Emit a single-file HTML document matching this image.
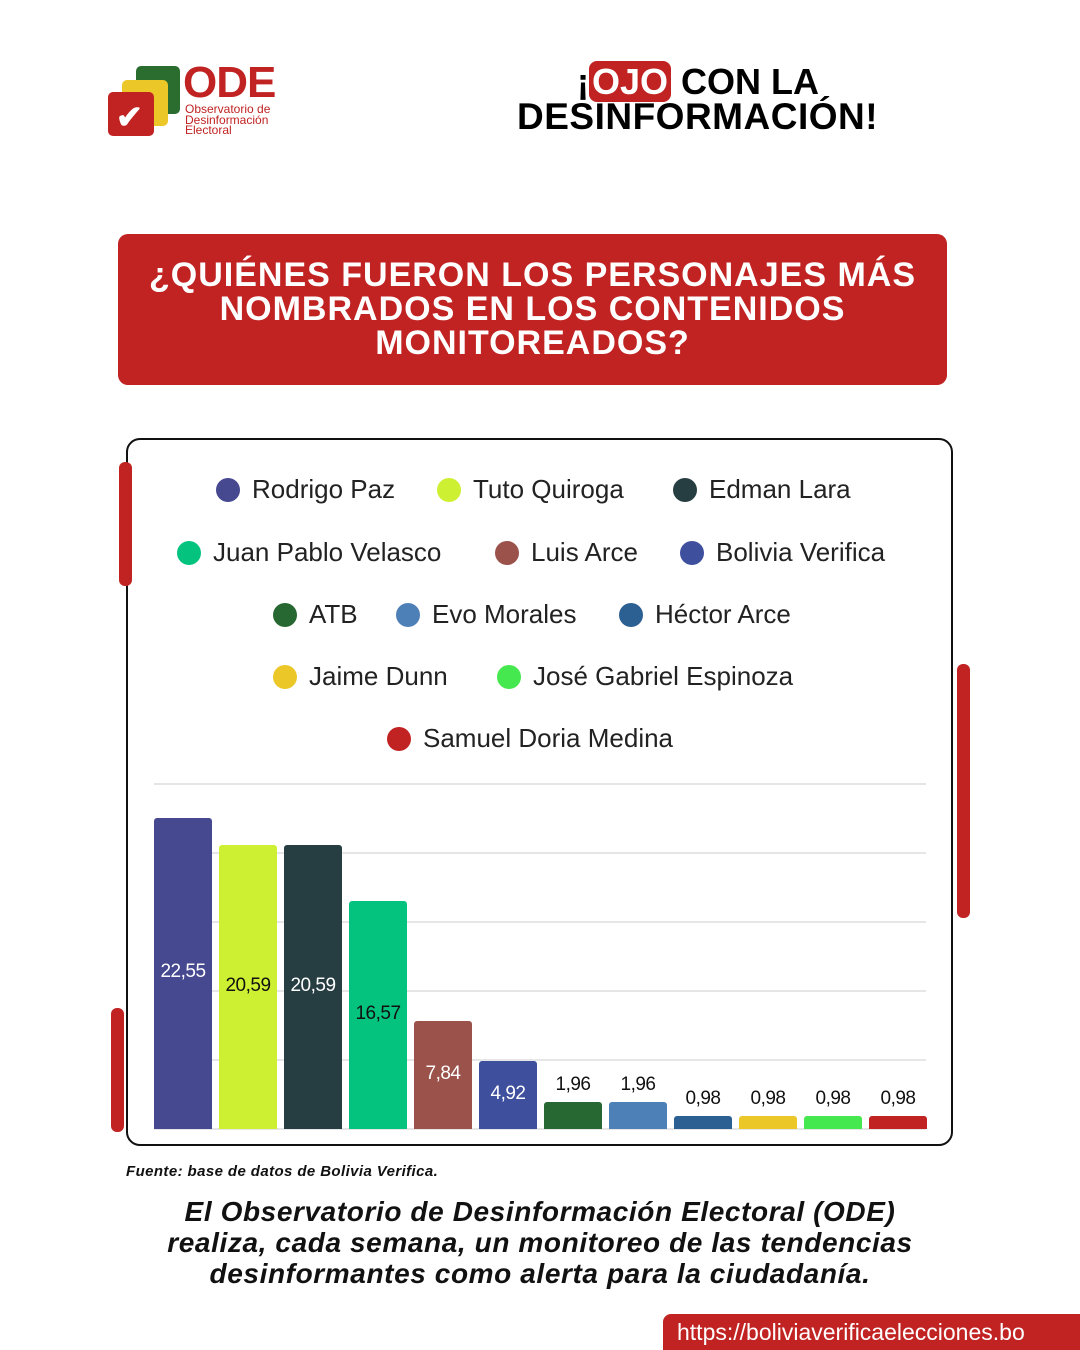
<!DOCTYPE html>
<html><head><meta charset="utf-8"><style>
body{margin:0;width:1080px;height:1350px;background:#fff;position:relative;overflow:hidden;font-family:"Liberation Sans",sans-serif}
.a{position:absolute}
.bar{position:absolute;width:58px;border-radius:3px 3px 0 0}
.lbl{position:absolute;width:58px;text-align:center;font-size:19px;letter-spacing:-0.5px}
.gl{position:absolute;left:154px;width:772px;height:2px;background:#e6e6e6}
.leg{position:absolute;font-size:26px;color:#222;white-space:nowrap}
.dot{display:inline-block;width:24px;height:24px;border-radius:50%;vertical-align:-4px;margin-right:12px}
</style></head><body>
<!-- logo -->
<div class="a" style="left:136px;top:66px;width:44px;height:48px;background:#2a6d2f;border-radius:5px"></div>
<div class="a" style="left:122px;top:80px;width:46px;height:46px;background:#ecc728;border-radius:5px"></div>
<div class="a" style="left:108px;top:92px;width:46px;height:44px;background:#c12222;border-radius:5px"></div>
<div class="a" style="left:116px;top:98px;font-size:32px;color:#fff;font-weight:bold">✔</div>
<div class="a" style="left:183px;top:58px;font-size:44px;font-weight:900;color:#c12222;letter-spacing:-1px">ODE</div>
<div class="a" style="left:185px;top:104px;font-size:12px;line-height:10.5px;color:#c12222">Observatorio de<br>Desinformación<br>Electoral</div>
<!-- header -->
<div class="a" style="left:577px;top:64px;font-size:36px;font-weight:900;line-height:36px;color:#000">¡<span style="background:#c12222;color:#fff;border-radius:8px;padding:0 3px">OJO</span> CON LA</div>
<div class="a" style="left:517px;top:98px;font-size:37px;font-weight:900;line-height:38px;color:#000;letter-spacing:0.5px">DESINFORMACIÓN!</div>
<!-- title box -->
<div class="a" style="left:118px;top:234px;width:829px;height:151px;background:#c12222;border-radius:10px;color:#fff;font-weight:900;font-size:34px;line-height:34px;text-align:center;box-sizing:border-box;padding-top:24px;letter-spacing:1px">¿QUIÉNES FUERON LOS PERSONAJES MÁS<br>NOMBRADOS EN LOS CONTENIDOS<br>MONITOREADOS?</div>
<!-- chart card -->
<div class="a" style="left:126px;top:438px;width:823px;height:704px;border:2px solid #111;border-radius:14px"></div>
<div class="a" style="left:119px;top:462px;width:13px;height:124px;background:#c12222;border-radius:6px"></div>
<div class="a" style="left:957px;top:664px;width:13px;height:254px;background:#c12222;border-radius:6px"></div>
<div class="a" style="left:111px;top:1008px;width:13px;height:124px;background:#c12222;border-radius:6px"></div>
<!-- legend -->
<div class="leg" style="left:216px;top:474px"><span class="dot" style="background:#464890"></span>Rodrigo Paz</div>
<div class="leg" style="left:437px;top:474px"><span class="dot" style="background:#cdf032"></span>Tuto Quiroga</div>
<div class="leg" style="left:673px;top:474px"><span class="dot" style="background:#263d42"></span>Edman Lara</div>
<div class="leg" style="left:177px;top:537px"><span class="dot" style="background:#04c37f"></span>Juan Pablo Velasco</div>
<div class="leg" style="left:495px;top:537px"><span class="dot" style="background:#9b524b"></span>Luis Arce</div>
<div class="leg" style="left:680px;top:537px"><span class="dot" style="background:#3e4f9e"></span>Bolivia Verifica</div>
<div class="leg" style="left:273px;top:599px"><span class="dot" style="background:#276731"></span>ATB</div>
<div class="leg" style="left:396px;top:599px"><span class="dot" style="background:#4e80b8"></span>Evo Morales</div>
<div class="leg" style="left:619px;top:599px"><span class="dot" style="background:#2c5f92"></span>Héctor Arce</div>
<div class="leg" style="left:273px;top:661px"><span class="dot" style="background:#ecc728"></span>Jaime Dunn</div>
<div class="leg" style="left:497px;top:661px"><span class="dot" style="background:#45e84f"></span>José Gabriel Espinoza</div>
<div class="leg" style="left:387px;top:723px"><span class="dot" style="background:#c12222"></span>Samuel Doria Medina</div>
<!-- grid -->
<div class="gl" style="top:783px"></div><div class="gl" style="top:852px"></div><div class="gl" style="top:921px"></div><div class="gl" style="top:990px"></div><div class="gl" style="top:1059px"></div><div class="gl" style="top:1128px"></div>
<!-- bars -->
<div class="bar" style="left:154px;top:818px;height:311px;background:#464890"></div>
<div class="bar" style="left:219px;top:845px;height:284px;background:#cdf032"></div>
<div class="bar" style="left:284px;top:845px;height:284px;background:#263d42"></div>
<div class="bar" style="left:349px;top:901px;height:228px;background:#04c37f"></div>
<div class="bar" style="left:414px;top:1021px;height:108px;background:#9b524b"></div>
<div class="bar" style="left:479px;top:1061px;height:68px;background:#3e4f9e"></div>
<div class="bar" style="left:544px;top:1102px;height:27px;background:#276731"></div>
<div class="bar" style="left:609px;top:1102px;height:27px;background:#4e80b8"></div>
<div class="bar" style="left:674px;top:1116px;height:13px;background:#2c5f92"></div>
<div class="bar" style="left:739px;top:1116px;height:13px;background:#ecc728"></div>
<div class="bar" style="left:804px;top:1116px;height:13px;background:#45e84f"></div>
<div class="bar" style="left:869px;top:1116px;height:13px;background:#c12222"></div>
<div class="lbl" style="left:154px;top:961px;color:#fff">22,55</div>
<div class="lbl" style="left:219px;top:975px;color:#111">20,59</div>
<div class="lbl" style="left:284px;top:975px;color:#fff">20,59</div>
<div class="lbl" style="left:349px;top:1003px;color:#111">16,57</div>
<div class="lbl" style="left:414px;top:1063px;color:#fff">7,84</div>
<div class="lbl" style="left:479px;top:1083px;color:#fff">4,92</div>
<div class="lbl" style="left:544px;top:1074px;color:#111">1,96</div>
<div class="lbl" style="left:609px;top:1074px;color:#111">1,96</div>
<div class="lbl" style="left:674px;top:1088px;color:#111">0,98</div>
<div class="lbl" style="left:739px;top:1088px;color:#111">0,98</div>
<div class="lbl" style="left:804px;top:1088px;color:#111">0,98</div>
<div class="lbl" style="left:869px;top:1088px;color:#111">0,98</div>
<!-- footer -->
<div class="a" style="left:126px;top:1163px;font-size:15px;font-weight:bold;font-style:italic;color:#111;letter-spacing:0.4px">Fuente: base de datos de Bolivia Verifica.</div>
<div class="a" style="left:60px;top:1196px;width:960px;text-align:center;font-size:28px;line-height:31px;font-weight:900;font-style:italic;color:#111;letter-spacing:0.6px">El Observatorio de Desinformación Electoral (ODE)<br>realiza, cada semana, un monitoreo de las tendencias<br>desinformantes como alerta para la ciudadanía.</div>
<div class="a" style="left:663px;top:1314px;width:430px;height:36px;background:#c12222;border-radius:8px 0 0 0;color:#fff;font-size:23px;line-height:36px;padding-left:14px;box-sizing:border-box">https://boliviaverificaelecciones.bo</div>
</body></html>
